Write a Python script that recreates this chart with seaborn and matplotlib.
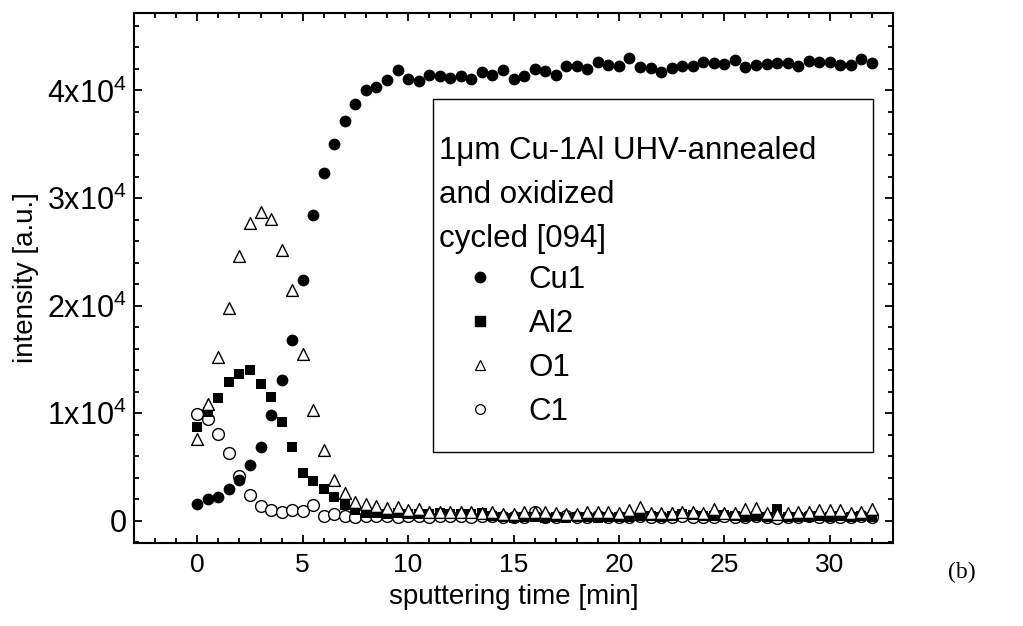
import matplotlib
matplotlib.use("Agg")
import matplotlib.pyplot as plt
import seaborn as sns
from matplotlib.lines import Line2D
from matplotlib.patches import Rectangle
from matplotlib.ticker import MultipleLocator

# sputtering time grid [min]
time_min = [0.0, 0.5, 1.0, 1.5, 2.0, 2.5, 3.0, 3.5, 4.0, 4.5,
            5.0, 5.5, 6.0, 6.5, 7.0, 7.5, 8.0, 8.5, 9.0, 9.5,
            10.0, 10.5, 11.0, 11.5, 12.0, 12.5, 13.0, 13.5, 14.0, 14.5,
            15.0, 15.5, 16.0, 16.5, 17.0, 17.5, 18.0, 18.5, 19.0, 19.5,
            20.0, 20.5, 21.0, 21.5, 22.0, 22.5, 23.0, 23.5, 24.0, 24.5,
            25.0, 25.5, 26.0, 26.5, 27.0, 27.5, 28.0, 28.5, 29.0, 29.5,
            30.0, 30.5, 31.0, 31.5, 32.0]

cu1 = [1600, 2000, 2250, 2950, 3800, 5200, 6850, 9850, 13100, 16850,
       22400, 28400, 32300, 35050, 37200, 38700, 40000, 40300, 41000, 41900,
       41050, 40900, 41450, 41300, 41150, 41300, 41050, 41750, 41450, 41900,
       41050, 41300, 42000, 41850, 41450, 42300, 42250, 41950, 42650, 42350,
       42250, 43000, 42200, 42050, 41750, 42050, 42250, 42300, 42650, 42600,
       42450, 42850, 42150, 42350, 42450, 42550, 42600, 42250, 42750, 42650,
       42650, 42350, 42350, 42950, 42550]

al2 = [8750, 10100, 11450, 12900, 13650, 14050, 12700, 11550, 9200, 6900,
       4500, 3700, 2950, 2200, 1500, 1000, 700, 700, 650, 700,
       600, 650, 600, 700, 650, 600, 650, 700, 450, 350,
       300, 350, 400, 300, 350, 300, 400, 350, 300, 350,
       400, 350, 450, 500, 400, 450, 600, 550, 500, 450,
       550, 450, 400, 450, 400, 1100, 400, 350, 400, 450,
       400, 450, 400, 450, 400]

o1 = [7650, 10900, 15200, 19800, 24600, 27700, 28700, 28100, 25200, 21450,
      15550, 10300, 6600, 3850, 2550, 1750, 1550, 1400, 1200, 1250,
      1050, 1100, 850, 800, 850, 850, 850, 700, 850, 650,
      650, 800, 800, 800, 750, 650, 650, 850, 850, 820,
      710, 1020, 1270, 770, 710, 770, 860, 860, 770, 1080,
      710, 710, 1080, 1180, 750, 650, 770, 860, 860, 1020,
      1020, 1020, 770, 860, 1080]

c1 = [9950, 9450, 8050, 6350, 4150, 2400, 1400, 1050, 850, 1000,
      950, 1450, 450, 600, 450, 400, 450, 500, 450, 400,
      450, 500, 400, 450, 500, 450, 400, 500, 450, 400,
      350, 400, 800, 400, 350, 450, 400, 350, 450, 400,
      350, 400, 450, 350, 400, 350, 450, 400, 350, 400,
      450, 400, 350, 450, 400, 300, 350, 400, 450, 350,
      400, 350, 400, 450, 400]

x_ticks = [0, 5, 10, 15, 20, 25, 30]
y_ticks = [0, 10000, 20000, 30000, 40000]
y_tick_labels = ["0", r"$\mathregular{1x10^{4}}$", r"$\mathregular{2x10^{4}}$",
                 r"$\mathregular{3x10^{4}}$", r"$\mathregular{4x10^{4}}$"]

legend_header = ["1\u03bcm Cu-1Al UHV-annealed", "and oxidized", "cycled [094]"]
series_names = ["Cu1", "Al2", "O1", "C1"]

sns.set_theme(style="ticks")
plt.rcParams["font.family"] = ["Liberation Sans", "DejaVu Sans"]
plt.rcParams["text.color"] = "black"
plt.rcParams["axes.labelcolor"] = "black"
plt.rcParams["mathtext.fontset"] = "custom"
plt.rcParams["mathtext.rm"] = "Liberation Sans"
plt.rcParams["mathtext.it"] = "Liberation Sans:italic"
plt.rcParams["mathtext.bf"] = "Liberation Sans:bold"

W, H = 1023, 626
fig = plt.figure(figsize=(W / 100, H / 100), dpi=100)
ax = fig.add_axes([134 / W, 83 / H, 759 / W, 530 / H])

# open symbols first, filled Cu on top
sns.scatterplot(x=time_min, y=c1, marker="o", s=72, color="white",
                edgecolor="black", linewidth=1.0, ax=ax, zorder=2)
sns.scatterplot(x=time_min, y=al2, marker="s", s=60, color="black",
                edgecolor="black", linewidth=0, ax=ax, zorder=3)
sns.scatterplot(x=time_min, y=o1, marker="^", s=72, color="white",
                edgecolor="black", linewidth=1.0, ax=ax, zorder=4)
sns.scatterplot(x=time_min, y=cu1, marker="o", s=72, color="black",
                edgecolor="black", linewidth=0, ax=ax, zorder=5)

ax.set_xlim(-3, 33)
ax.set_ylim(-2050, 47200)
ax.set_xticks(x_ticks)
ax.set_yticks(y_ticks, y_tick_labels)
ax.xaxis.set_minor_locator(MultipleLocator(1))
ax.yaxis.set_minor_locator(MultipleLocator(2000))

for side in ["left", "right", "top", "bottom"]:
    ax.spines[side].set_visible(True)
    ax.spines[side].set_linewidth(1.5)
    ax.spines[side].set_color("black")
ax.tick_params(which="both", direction="in", top=True, right=True,
               color="black", width=1.3, labelcolor="black")
ax.tick_params(which="major", length=6)
ax.tick_params(which="minor", length=3.5)
ax.tick_params(axis="x", which="major", pad=7, labelsize=19)
ax.tick_params(axis="y", which="major", pad=5, labelsize=22)

ax.set_xlabel("sputtering time [min]", fontsize=20, color="black", labelpad=5)
ax.set_ylabel("intensity [a.u.]", fontsize=20, color="black", labelpad=6)

# legend frame and header
def ax_x(px):
    return (px - 134) / 759

def ax_y(py):
    return (543 - py) / 530

ax.add_patch(Rectangle((ax_x(433), ax_y(452)), ax_x(873) - ax_x(433),
                       ax_y(99) - ax_y(452), transform=ax.transAxes,
                       facecolor="white", edgecolor="black", linewidth=1.0,
                       zorder=6))
for txt, py in zip(legend_header, [151, 195, 239]):
    ax.text(ax_x(439), ax_y(py), txt, transform=ax.transAxes, fontsize=22.5,
            va="center", ha="left", color="black", zorder=7)

handles = [
    Line2D([], [], ls="none", marker="o", markersize=7.5, color="black"),
    Line2D([], [], ls="none", marker="s", markersize=7, color="black"),
    Line2D([], [], ls="none", marker="^", markersize=7, markerfacecolor="white",
           markeredgecolor="black", markeredgewidth=0.9),
    Line2D([], [], ls="none", marker="o", markersize=7, markerfacecolor="white",
           markeredgecolor="black", markeredgewidth=0.9),
]
leg = ax.legend(handles, series_names, loc="center left",
                bbox_to_anchor=(ax_x(466), ax_y(346)), frameon=False,
                fontsize=22.5, handlelength=0.9, handletextpad=1.1,
                labelspacing=0.45, borderpad=0, borderaxespad=0,
                labelcolor="black")
leg.set_zorder(8)

fig.text(962 / W, 1 - 572 / H, "(b)", fontsize=17, ha="center", va="center",
         family=["Liberation Serif", "DejaVu Serif"], color="black")

fig.savefig("out.png", dpi=100)
